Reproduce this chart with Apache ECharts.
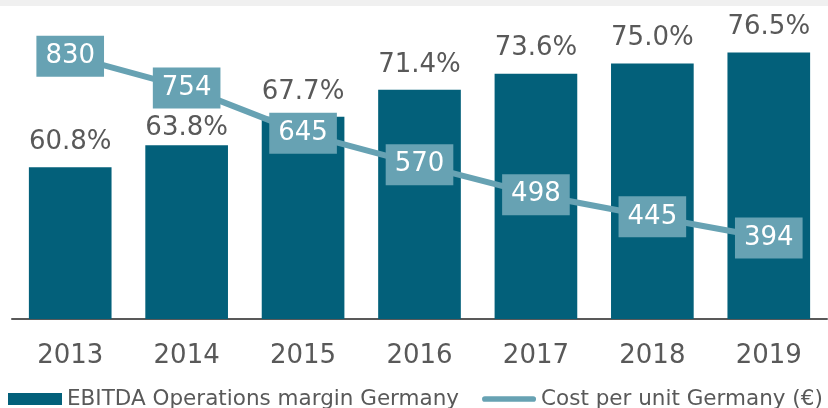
<!DOCTYPE html>
<html>
<head>
<meta charset="utf-8">
<script src="https://cdn.jsdelivr.net/npm/echarts@6/dist/echarts.min.js"></script>
<style>
  html, body { margin: 0; padding: 0; background: #fff; }
  #chart { width: 828px; height: 408px; }
</style>
</head>
<body>
<div id="chart"></div>
<script>
  var years = ['2013', '2014', '2015', '2016', '2017', '2018', '2019'];
  var margins = [60.8, 63.8, 67.7, 71.4, 73.6, 75.0, 76.5];
  var costs = [830, 754, 645, 570, 498, 445, 394];

  var barName = 'EBITDA Operations margin Germany';
  var lineName = 'Cost per unit Germany (€)';
  var font = 'DejaVu Sans, Verdana, sans-serif';
  var dark = '#03607a', light = '#67a2b3';

  var myChart = echarts.init(document.getElementById('chart'));

  // 2014 label sits closer to its bar (it would hit the 754 box otherwise)
  var barData = margins.map(function (v, i) {
    return i === 1 ? { value: v, label: { distance: 4 } } : v;
  });

  var option = {
    animation: false,
    textStyle: { fontFamily: font },
    graphic: [{
      type: 'rect',
      left: 0, top: 0,
      shape: { width: 828, height: 6 },
      style: { fill: '#f0f0f0' },
      silent: true
    }],
    grid: { left: 12, right: 1, top: 27, bottom: 89 },
    legend: {
      left: 8,
      top: 388,
      padding: 0,
      itemGap: 23,
      itemWidth: 54,
      itemHeight: 12,
      textStyle: { fontSize: 21.5, color: '#595959', fontFamily: font },
      data: [
        { name: barName, icon: 'rect' },
        // pill shaped line icon
        { name: lineName, icon: 'path://M3,0H54A3,3,0,0,1,54,6H3A3,3,0,0,1,3,0Z', itemStyle: { color: light } }
      ]
    },
    xAxis: {
      type: 'category',
      data: years,
      axisTick: { show: false },
      axisLine: { lineStyle: { color: '#595959', width: 2 } },
      axisLabel: { fontSize: 26, color: '#595959', margin: 24, fontFamily: font }
    },
    yAxis: [
      { type: 'value', min: 40, max: 80, show: false, splitLine: { show: false } },
      { type: 'value', min: 200, max: 900, show: false, splitLine: { show: false } }
    ],
    series: [
      {
        name: barName,
        type: 'bar',
        data: barData,
        barWidth: '71%',
        itemStyle: { color: dark },
        label: {
          show: true,
          position: 'top',
          distance: 12,
          fontSize: 26,
          color: '#595959',
          fontFamily: font,
          formatter: function (p) { return p.value.toFixed(1) + '%'; }
        }
      },
      {
        name: lineName,
        type: 'line',
        yAxisIndex: 1,
        data: costs,
        symbol: 'rect',
        symbolSize: 1,
        showSymbol: true,
        z: 5,
        itemStyle: { color: light },
        lineStyle: { color: light, width: 6, cap: 'round' },
        label: {
          show: true,
          position: 'inside',
          fontSize: 26,
          color: '#fff',
          fontFamily: font,
          backgroundColor: light,
          padding: [7, 9, 6, 9],
          lineHeight: 28
        }
      }
    ]
  };

  myChart.setOption(option);
</script>
</body>
</html>
